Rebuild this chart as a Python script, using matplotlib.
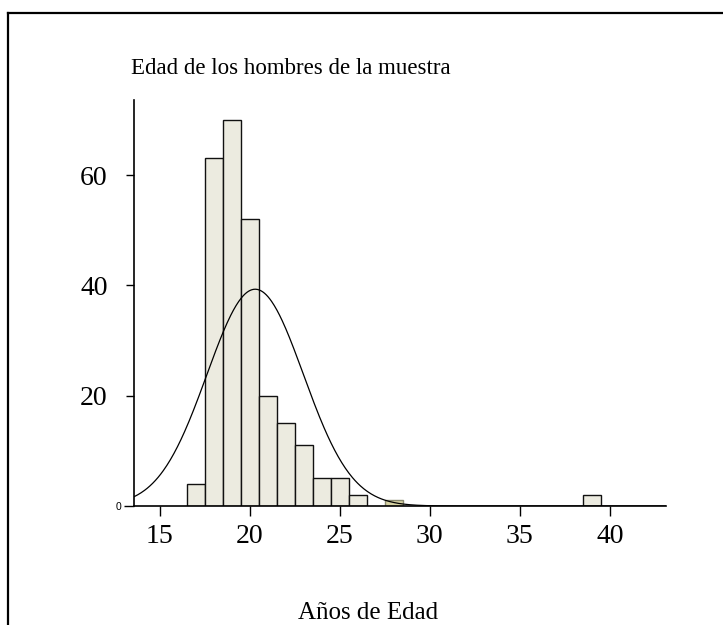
import numpy as np
import matplotlib
matplotlib.use("Agg")
import matplotlib.pyplot as plt
from matplotlib.lines import Line2D

# histogram of ages (bins of one year, edges at .5)
bin_left = [16.5, 17.5, 18.5, 19.5, 20.5, 21.5, 22.5, 23.5, 24.5, 25.5, 27.5, 38.5]
counts = [4, 63, 70, 52, 20, 15, 11, 5, 5, 2, 1, 2]
bar_colors = ["#ecebe0"] * 10 + ["#d6d2a2", "#ecebe0"]
bar_edges = ["#111111"] * 10 + ["#8a8a70", "#111111"]

# normal curve drawn over the bars
curve_mean = 20.3
curve_sd = 2.68
curve_peak = 39.3

x_ticks = [15, 20, 25, 30, 35, 40]
y_ticks = [20, 40, 60]

title = "Edad de los hombres de la muestra"
xlabel = "Años de Edad"

W, H = 723, 625
fig = plt.figure(figsize=(W / 100, H / 100), dpi=100)
ax = fig.add_axes([134 / W, 1 - 506 / H, (665.7 - 134) / W, (506 - 100) / H])

ax.bar(bin_left, counts, width=1.0, align="edge", color=bar_colors,
       edgecolor=bar_edges, linewidth=1.0, zorder=2)

xs = np.linspace(13.57, 43.1, 600)
ax.plot(xs, curve_peak * np.exp(-0.5 * ((xs - curve_mean) / curve_sd) ** 2),
        color="black", linewidth=0.9, zorder=3)

ax.set_xlim(13.57, 43.1)
ax.set_ylim(0, 73.6)
for side in ("top", "right"):
    ax.spines[side].set_visible(False)
ax.spines["left"].set_linewidth(1.2)
ax.spines["bottom"].set_linewidth(1.2)

serif = "Liberation Serif"
ax.set_xticks(x_ticks)
ax.set_xticklabels([str(v) for v in x_ticks], fontfamily=serif, fontsize=20)
ax.tick_params(axis="x", direction="out", length=7, width=1, pad=6)

ax.set_yticks(y_ticks)
ax.set_yticklabels([str(v) for v in y_ticks], fontfamily=serif, fontsize=20)
ax.set_yticks([0], minor=True)
ax.set_yticklabels(["0"], minor=True, fontfamily="Liberation Sans", fontsize=7.5)
ax.tick_params(axis="y", which="major", direction="out", length=6, width=1, pad=13)
ax.tick_params(axis="y", which="minor", direction="out", length=7, width=1, pad=2)

fig.text(291 / W, 1 - 68 / H, title, ha="center", va="center",
         fontfamily=serif, fontsize=16.5)
fig.text(368 / W, 1 - 619 / H, xlabel, ha="center", va="baseline",
         fontfamily=serif, fontsize=18)

# outer frame (top and left edges only are visible)
fig.add_artist(Line2D([8 / W, 1], [1 - 13 / H, 1 - 13 / H], color="black", linewidth=1.6))
fig.add_artist(Line2D([8 / W, 8 / W], [0, 1 - 13 / H], color="black", linewidth=1.6))

fig.savefig("out.png", dpi=100)
